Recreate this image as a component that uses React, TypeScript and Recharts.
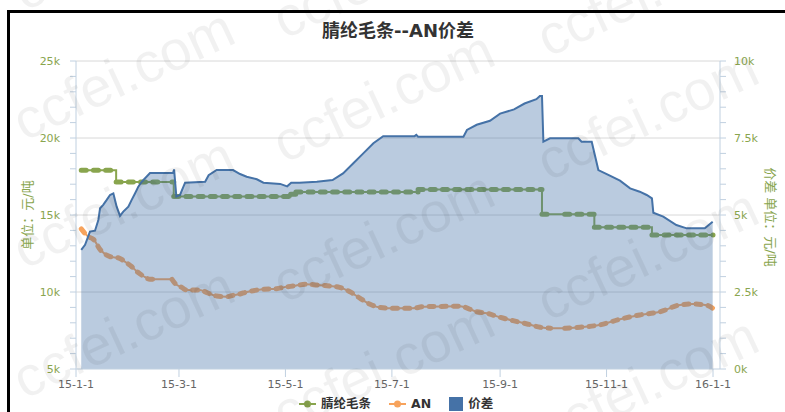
import React from "react";
import { ComposedChart, Line, Area, XAxis, YAxis, CartesianGrid } from "recharts";

// x values are days counted from 2015-01-01
const xTickDays = [0, 59, 120, 181, 243, 304, 365];
const xTickLabels = ["15-1-1", "15-3-1", "15-5-1", "15-7-1", "15-9-1", "15-11-1", "16-1-1"];

// Spring Festival and National Day: no quotes, the line runs thin there
const holidays = [
  [47, 55],
  [272, 280],
];

// 腈纶毛条 (left axis): first day of each price level
const acrylicDays = [3, 23, 56, 123, 126, 196, 267, 297, 330, 365];
const acrylicValues = [17900, 17150, 16200, 16350, 16500, 16650, 15050, 14200, 13700, 13700];

// AN (left axis)
const anDays = [
  3, 7, 10, 14, 19.5, 25, 28, 32, 35, 38.5, 42.4, 47, 51, 55, 56.7, 60.6, 63.4, 71, 75, 80.6,
  86.4, 90, 94, 97.8, 101.6, 107, 115, 118.8, 124.5, 132, 138, 145.6, 151, 157, 162.8, 168.5,
  174, 180, 193, 199, 220, 229.6, 235.5, 243, 250.4, 258.5, 266, 272, 276, 280, 288.8, 300,
  311.7, 323, 334.7, 346, 353.8, 361.4, 364.9,
];
const anValues = [
  14100, 13600, 13420, 12730, 12300, 12190, 11970, 11640, 11320, 11040, 10830, 10825, 10822,
  10820, 10560, 10300, 10130, 10130, 9955, 9740, 9695, 9785, 9870, 10000, 10085, 10175, 10215,
  10300, 10390, 10500, 10455, 10390, 10300, 10015, 9590, 9200, 9000, 8945, 8945, 9050, 9070,
  8720, 8615, 8355, 8140, 7925, 7710, 7650, 7648, 7645, 7710, 7860, 8230, 8510, 8720, 9160,
  9220, 9135, 8945,
];

// 价差 (right axis)
const spreadDays = [
  3, 5.2, 8, 10.9, 12.8, 13.8, 15.6, 17.6, 19.5, 21.4, 23.3, 25.2, 27.1, 30, 31.9, 33.8, 35.7,
  37.7, 42.4, 55.6, 56.2, 57.5, 59.6, 62.5, 74, 76, 80.6, 90, 94, 97.8, 103.6, 107.4, 117, 121,
  123.3, 128, 138, 147, 153, 158.9, 164.6, 170.4, 176, 194, 195, 196, 222, 224, 229.6, 237.2,
  243, 251, 257, 263.8, 265.8, 267, 267.8, 271.6, 287.8, 289.7, 295.5, 299.3, 305, 311.7,
  317.5, 323, 327, 330, 330.8, 336.5, 344, 349.9, 360.3, 364.8,
];
const spreadValues = [
  3870, 4030, 4460, 4490, 4840, 5220, 5330, 5490, 5650, 5700, 5270, 4970, 5110, 5270, 5490,
  5700, 5920, 6080, 6360, 6360, 6480, 5600, 5650, 6050, 6080, 6290, 6460, 6460, 6330, 6244,
  6160, 6050, 6010, 5930, 6050, 6050, 6080, 6136, 6350, 6680, 7000, 7330, 7560, 7560, 7600,
  7543, 7543, 7760, 7930, 8061, 8290, 8430, 8620, 8760, 8864, 8864, 7380, 7490, 7490, 7380,
  7380, 6460, 6300, 6115, 5866, 5757, 5650, 5542, 5075, 4945, 4675, 4567, 4567, 4783,
];

const GREEN = "#89A54E";
const ORANGE = "#F7A35C";
const BLUE = "#4572A7";
const AXIS = "#C0D0E0";
const FONT = "'DejaVu Sans', 'Noto Sans CJK SC', sans-serif";

const inHoliday = (d: number) => holidays.some(([a, b]) => d > a && d < b);

const acrylicData = acrylicDays.map((d, i) => ({ d, v: acrylicValues[i] }));
// thick "marker" strokes only on the flat parts, broken at holidays
const acrylicPieces: { d: number; v: number }[][] = [];
for (let i = 0; i < acrylicDays.length - 1; i++) {
  let a = acrylicDays[i];
  const b = acrylicDays[i + 1];
  const v = acrylicValues[i];
  for (const [h0, h1] of holidays) {
    if (h0 > a && h1 < b) {
      acrylicPieces.push([{ d: a, v }, { d: h0, v }]);
      a = h1;
    }
  }
  acrylicPieces.push([{ d: a, v }, { d: b, v }]);
}

const anData = anDays.map((d, i) => ({
  d,
  v: anValues[i],
  t: inHoliday(d) ? null : anValues[i],
}));
const spreadData = spreadDays.map((d, i) => ({ d, v: spreadValues[i] }));

const LeftTick = (props: any) => {
  const { x, y, payload } = props;
  if (payload.value % 5000 !== 0) return <g />;
  return (
    <text x={x} y={y} dy={4} textAnchor="end" fill={GREEN} fontSize={11} fontFamily={FONT}>
      {payload.value / 1000}k
    </text>
  );
};

const RightTick = (props: any) => {
  const { x, y, payload } = props;
  if (payload.value % 2500 !== 0) return <g />;
  return (
    <text x={x} y={y} dy={4} textAnchor="start" fill={GREEN} fontSize={11} fontFamily={FONT}>
      {payload.value / 1000}k
    </text>
  );
};

const leftTicks = Array.from({ length: 21 }, (_, i) => 5000 + i * 1000);
const rightTicks = Array.from({ length: 21 }, (_, i) => i * 500);

// watermark origins (bottom-left of the text)
const marks = [
  [28, 20], [28, 150], [28, 278], [28, 408],
  [288, 48], [288, 172], [288, 312], [288, 442],
  [552, 66], [552, 190], [552, 330], [552, 458],
];

const dashProps = {
  strokeWidth: 5,
  strokeDasharray: "5 7.2",
  strokeLinecap: "round" as const,
};

export default function App() {
  return (
    <div
      style={{
        position: "fixed",
        left: 0,
        top: 0,
        width: 785,
        height: 412,
        overflow: "hidden",
        background: "#fff",
        fontFamily: FONT,
      }}
    >
      <div
        style={{
          position: "absolute",
          left: 7,
          top: 10,
          width: 800,
          height: 430,
          border: "3px solid #000",
          boxSizing: "border-box",
        }}
      />
      <div
        style={{
          position: "absolute",
          left: 0,
          top: 21,
          width: 796,
          textAlign: "center",
          fontSize: 18,
          fontWeight: "bold",
          color: "#333",
          lineHeight: "20px",
        }}
      >
        腈纶毛条--AN价差
      </div>
      <div style={{ position: "absolute", left: 0, top: 0 }}>
        <ComposedChart width={785} height={412} margin={{ top: 61, right: 5, bottom: 13, left: 16 }}>
          <CartesianGrid
            yAxisId="left"
            vertical={false}
            horizontalValues={[10000, 15000, 20000, 25000]}
            stroke="#D8D8D8"
          />
          <XAxis
            type="number"
            dataKey="d"
            domain={[0, 369]}
            allowDataOverflow
            ticks={xTickDays}
            interval={0}
            tickFormatter={(v: number) => xTickLabels[xTickDays.indexOf(v)]}
            height={30}
            tickSize={8}
            tickMargin={3}
            stroke={AXIS}
            tick={{ fill: "#666", fontSize: 11, fontFamily: FONT }}
          />
          <YAxis
            yAxisId="left"
            domain={[5000, 25000]}
            ticks={leftTicks}
            interval={0}
            width={60}
            tickSize={6}
            tickMargin={10}
            stroke={AXIS}
            tick={LeftTick}
          />
          <YAxis
            yAxisId="right"
            orientation="right"
            domain={[0, 10000]}
            ticks={rightTicks}
            interval={0}
            width={60}
            tickSize={6}
            tickMargin={8}
            stroke={AXIS}
            tick={RightTick}
          />
          <Line
            yAxisId="left"
            data={acrylicData}
            dataKey="v"
            type="stepAfter"
            stroke={GREEN}
            strokeWidth={2}
            dot={false}
            activeDot={false}
            isAnimationActive={false}
          />
          {acrylicPieces.map((p, i) => (
            <Line
              key={"ap" + i}
              yAxisId="left"
              data={p}
              dataKey="v"
              type="linear"
              stroke={GREEN}
              {...dashProps}
              dot={false}
              activeDot={false}
              isAnimationActive={false}
            />
          ))}
          <Line
            yAxisId="left"
            data={anData}
            dataKey="v"
            type="monotone"
            stroke={ORANGE}
            strokeWidth={2}
            connectNulls
            dot={false}
            activeDot={false}
            isAnimationActive={false}
          />
          <Line
            yAxisId="left"
            data={anData}
            dataKey="t"
            type="monotone"
            stroke={ORANGE}
            {...dashProps}
            dot={false}
            activeDot={false}
            isAnimationActive={false}
          />
          <Area
            yAxisId="right"
            data={spreadData}
            dataKey="v"
            type="linear"
            stroke={BLUE}
            strokeWidth={2}
            fill={BLUE}
            fillOpacity={0.37}
            dot={false}
            activeDot={false}
            zIndex={450}
            isAnimationActive={false}
          />
        </ComposedChart>
      </div>
      <div
        style={{
          position: "absolute",
          left: 26,
          top: 215,
          transform: "translate(-50%, -50%) rotate(-90deg)",
          whiteSpace: "nowrap",
          color: GREEN,
          fontSize: 13,
        }}
      >
        单位：元/吨
      </div>
      <div
        style={{
          position: "absolute",
          left: 771,
          top: 217,
          transform: "translate(-50%, -50%) rotate(90deg)",
          whiteSpace: "nowrap",
          color: GREEN,
          fontSize: 13,
        }}
      >
        价差 单位：元/吨
      </div>
      <div
        style={{
          position: "absolute",
          left: 299,
          top: 396,
          display: "flex",
          alignItems: "center",
          fontSize: 12.5,
          fontWeight: "bold",
          color: "#333",
          whiteSpace: "nowrap",
          lineHeight: "16px",
        }}
      >
        <svg width={17} height={10} style={{ marginRight: 5 }}>
          <line x1={0} y1={5} x2={17} y2={5} stroke={GREEN} strokeWidth={2} />
          <circle cx={8.5} cy={5} r={3.5} fill={GREEN} />
        </svg>
        <span>腈纶毛条</span>
        <svg width={17} height={10} style={{ marginLeft: 18, marginRight: 5 }}>
          <line x1={0} y1={5} x2={17} y2={5} stroke={ORANGE} strokeWidth={2} />
          <circle cx={8.5} cy={5} r={3.5} fill={ORANGE} />
        </svg>
        <span>AN</span>
        <svg width={14} height={14} style={{ marginLeft: 18, marginRight: 5 }}>
          <rect x={0} y={0} width={14} height={14} fill={BLUE} />
        </svg>
        <span>价差</span>
      </div>
      {marks.map(([x, y], i) => (
        <div
          key={"wm" + i}
          style={{
            position: "absolute",
            left: x,
            top: y - 56,
            fontFamily: "'Liberation Sans', Arial, sans-serif",
            fontSize: 56,
            lineHeight: "56px",
            color: "rgba(0,0,0,0.055)",
            transform: "rotate(-25deg)",
            transformOrigin: "0 100%",
            whiteSpace: "nowrap",
            pointerEvents: "none",
          }}
        >
          ccfei.com
        </div>
      ))}
    </div>
  );
}
